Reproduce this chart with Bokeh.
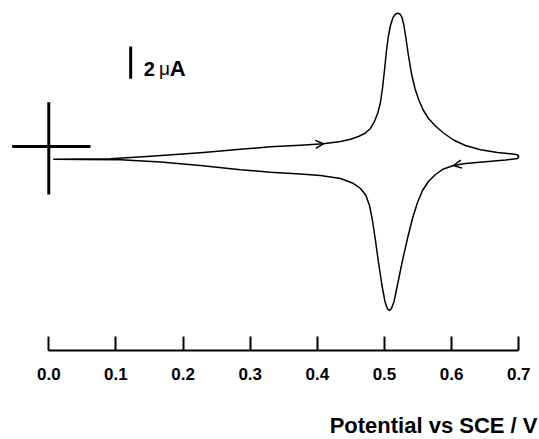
from bokeh.plotting import figure
from bokeh.models import Range1d, FixedTicker, Label, Arrow, OpenHead, NumeralTickFormatter, Title
from bokeh.embed import file_html
from bokeh.resources import INLINE

# ---- data (potential in V vs SCE, current in microamps) ----
potential_forward = [0.0066, 0.0472, 0.0919, 0.1515, 0.2259, 0.2855, 0.3302, 0.3749, 0.4091, 0.4345,
                     0.4494, 0.4613, 0.4717, 0.4791, 0.4851, 0.4903, 0.4940, 0.4970, 0.5000, 0.5030,
                     0.5060, 0.5089, 0.5127, 0.5164, 0.5198, 0.5231, 0.5261, 0.5290, 0.5320, 0.5357,
                     0.5402, 0.5454, 0.5514, 0.5581, 0.5655, 0.5760, 0.5879, 0.6028, 0.6206, 0.6430,
                     0.6683, 0.6907, 0.6981, 0.7000]
current_forward = [-0.786, -0.780, -0.755, -0.607, -0.390, -0.173, -0.019, 0.074, 0.167, 0.310,
                   0.446, 0.619, 0.836, 1.115, 1.548, 2.105, 2.724, 3.591, 4.706, 5.944,
                   6.873, 7.492, 7.988, 8.204, 8.254, 8.204, 7.988, 7.492, 6.687, 5.635,
                   4.520, 3.591, 2.848, 2.229, 1.734, 1.269, 0.836, 0.402, 0.062, -0.204,
                   -0.372, -0.464, -0.508, -0.619]
potential_reverse = [0.6981, 0.6803, 0.6504, 0.6206, 0.6028, 0.5879, 0.5760, 0.5655, 0.5566, 0.5492,
                     0.5417, 0.5343, 0.5268, 0.5201, 0.5142, 0.5104, 0.5074, 0.5045, 0.5007, 0.4963,
                     0.4911, 0.4866, 0.4821, 0.4777, 0.4724, 0.4643, 0.4523, 0.4345, 0.4047, 0.3749,
                     0.3302, 0.2855, 0.2259, 0.1664, 0.1068, 0.0472, 0.0070]
current_reverse = [-0.743, -0.836, -0.941, -1.053, -1.176, -1.393, -1.734, -2.167, -2.724, -3.467,
                   -4.458, -5.697, -7.059, -8.421, -9.598, -10.031, -10.155, -10.062, -9.598, -8.607,
                   -7.183, -5.820, -4.582, -3.653, -3.034, -2.601, -2.260, -1.981, -1.796, -1.703,
                   -1.591, -1.437, -1.176, -0.960, -0.817, -0.799, -0.786]

tick_values = [0.0, 0.1, 0.2, 0.3, 0.4, 0.5, 0.6, 0.7]
tick_labels = ["0.0", "0.1", "0.2", "0.3", "0.4", "0.5", "0.6", "0.7"]
x_title = "Potential vs SCE / V"
scale_bar_current = 2.0          # microamps
scale_bar_parts = ["2", "\u03bc", "A"]
origin_potential = 0.0
origin_current = 0.0

FONT = "Liberation Sans"

p = figure(width=539, height=439, output_backend="svg", toolbar_location=None,
           x_range=Range1d(-0.0719, 0.7309), y_range=Range1d(-12.632, 9.040),
           y_axis_location=None, x_axis_location="below",
           min_border_left=0, min_border_right=0, min_border_top=0, min_border_bottom=89)
p.xgrid.visible = False
p.ygrid.visible = False
p.outline_line_color = None
p.background_fill_color = "white"
p.border_fill_color = "white"

ax = p.xaxis[0]
ax.ticker = FixedTicker(ticks=tick_values, minor_ticks=[])
ax.formatter = NumeralTickFormatter(format="0.0")
ax.major_label_overrides = {v: l for v, l in zip(tick_values, tick_labels)}
ax.bounds = (tick_values[0], tick_values[-1])
ax.axis_line_width = 2
ax.axis_line_color = "black"
ax.major_tick_line_width = 2
ax.major_tick_line_color = "black"
ax.major_tick_in = 14
ax.major_tick_out = 0
ax.minor_tick_line_color = None
ax.major_label_text_font = FONT
ax.major_label_text_font_style = "bold"
ax.major_label_text_font_size = "17px"
ax.major_label_text_color = "black"
ax.major_label_standoff = 17
# blank axis label only reserves the gap above the bottom-right title
ax.axis_label = "\u00a0"
ax.axis_label_text_font_size = "8px"
ax.axis_label_standoff = 16

p.add_layout(Title(text=x_title, align="right", text_font=FONT, text_font_style="bold",
                   text_font_size="22px", text_color="black", standoff=0, offset=2), "below")

# voltammogram
p.line(potential_forward + potential_reverse, current_forward + current_reverse,
       line_color="black", line_width=1.5, line_join="round")

# direction arrows
p.add_layout(Arrow(end=OpenHead(size=8, line_width=1.5, line_color="black"), line_color=None,
                   x_start=potential_forward[7], y_start=current_forward[7],
                   x_end=potential_forward[8], y_end=current_forward[8]))
p.add_layout(Arrow(end=OpenHead(size=8, line_width=1.5, line_color="black"), line_color=None,
                   x_start=potential_reverse[3], y_start=current_reverse[3],
                   x_end=potential_reverse[4], y_end=current_reverse[4]))

# origin cross
p.segment(x0=[origin_potential - 0.0545, origin_potential],
          y0=[origin_current, origin_current + 2.74],
          x1=[origin_potential + 0.0621, origin_potential],
          y1=[origin_current, origin_current - 2.97],
          line_color="black", line_width=3)

# scale bar
sb_x = 0.122
sb_y0 = 4.19
p.segment(x0=[sb_x], y0=[sb_y0], x1=[sb_x], y1=[sb_y0 + scale_bar_current],
          line_color="black", line_width=3)
sb_text_y = 4.81
p.add_layout(Label(x=0.1415, y=sb_text_y, text=scale_bar_parts[0], text_font=FONT,
                   text_font_style="bold", text_font_size="20px", text_color="black",
                   text_baseline="alphabetic", text_align="left"))
p.add_layout(Label(x=0.1640, y=sb_text_y, text=scale_bar_parts[1], text_font=FONT,
                   text_font_style="normal", text_font_size="19px", text_color="black",
                   text_baseline="alphabetic", text_align="left"))
p.add_layout(Label(x=0.1800, y=sb_text_y, text=scale_bar_parts[2], text_font=FONT,
                   text_font_style="bold", text_font_size="22px", text_color="black",
                   text_baseline="alphabetic", text_align="left"))

open("out.html", "w").write(file_html(p, INLINE))
